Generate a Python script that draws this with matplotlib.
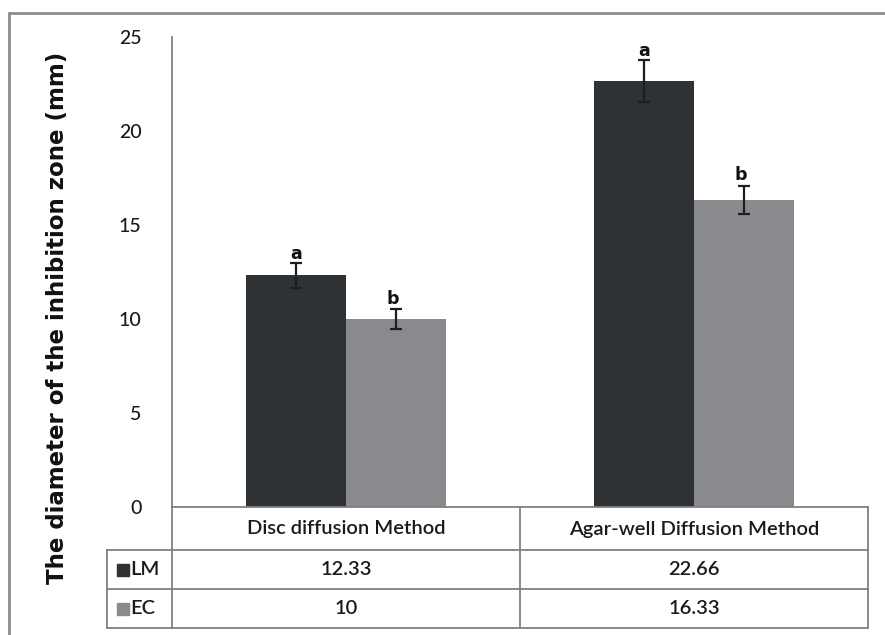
import matplotlib.pyplot as plt
from matplotlib.patches import Rectangle
import numpy as np

# data
methods = ['Disc diffusion Method', 'Agar-well Diffusion Method']
series_names = ['LM', 'EC']
lm_means = [12.33, 22.66]
ec_means = [10, 16.33]
lm_err = [0.66, 1.1]
ec_err = [0.53, 0.77]
lm_text = ['12.33', '22.66']
ec_text = ['10', '16.33']
lm_letters = ['a', 'a']
ec_letters = ['b', 'b']
yticks = [0, 5, 10, 15, 20, 25]

LM_COLOR = '#2e3235'
EC_COLOR = '#898a8e'
LINE = '#808080'
TXT_FONT = ['Lato', 'DejaVu Sans']

W, H = 885, 635
fig = plt.figure(figsize=(W / 100, H / 100), dpi=100)


def fx(px):
    return px / W


def fy(py):
    return 1 - py / H


# main plot area (pixel box 172..868 x 37..507)
ax = fig.add_axes([fx(172), fy(507), fx(868) - fx(172), fy(37) - fy(507)])
x = np.arange(len(methods))
w = 100 / 348  # bar width in category units

ax.bar(x - w / 2, lm_means, w, color=LM_COLOR, yerr=lm_err, capsize=4,
       error_kw=dict(elinewidth=1.6, capthick=1.6, ecolor='#1e1e1e'))
ax.bar(x + w / 2, ec_means, w, color=EC_COLOR, yerr=ec_err, capsize=4,
       error_kw=dict(elinewidth=1.6, capthick=1.6, ecolor='#1e1e1e'))

for i in range(len(methods)):
    ax.annotate(lm_letters[i], (x[i] - w / 2, lm_means[i] + lm_err[i]),
                xytext=(0, 0), textcoords='offset points', ha='center', va='bottom',
                fontsize=12.5, fontweight='bold', color='#111')
    ax.annotate(ec_letters[i], (x[i] + w / 2, ec_means[i] + ec_err[i]),
                xytext=(-2, 1), textcoords='offset points', ha='center', va='bottom',
                fontsize=12.5, fontweight='bold', color='#111')

ax.set_xlim(-0.5, 1.5)
ax.set_ylim(0, 25)
ax.set_yticks(yticks)
ax.set_xticks([])
for lab in ax.get_yticklabels():
    lab.set_family(TXT_FONT)
    lab.set_fontweight('medium')
ax.tick_params(axis='y', length=0, pad=22, labelsize=14, labelcolor='#1a1a1a')
for s in ['top', 'right', 'bottom']:
    ax.spines[s].set_visible(False)
ax.spines['left'].set_color(LINE)
ax.spines['left'].set_linewidth(1.3)

fig.text(fx(58), fy(318), 'The diameter of the inhibition zone (mm)', rotation=90,
         ha='center', va='center', fontsize=16.5, fontweight='bold', color='#111')

# data table under the bars
tax = fig.add_axes([fx(172), fy(628), fx(868) - fx(172), fy(507) - fy(628)])
tax.set_xlim(-0.5, 1.5)
tax.set_ylim(121, 0)
tax.axis('off')


def px2x(px):
    return -0.5 + (px - 172) / 348


xl = px2x(107)
lk = dict(color=LINE, lw=1.3, clip_on=False)
tax.plot([-0.5, 1.5], [0, 0], **lk)
for yy in [43, 82, 121]:
    tax.plot([xl, 1.5], [yy, yy], **lk)
for xx in [-0.5, 0.5, 1.5]:
    tax.plot([xx, xx], [0, 121], **lk)
tax.plot([xl, xl], [43, 121], **lk)

tk = dict(ha='center', va='center', fontsize=14.5, family=TXT_FONT,
          fontweight='semibold', color='#1a1a1a')
for i in range(len(methods)):
    tax.text(x[i], 22, methods[i], **tk)
    tax.text(x[i], 62.5, lm_text[i], **tk)
    tax.text(x[i], 101.5, ec_text[i], **tk)

for name, color, yy in zip(series_names, [LM_COLOR, EC_COLOR], [62.5, 101.5]):
    tax.plot([px2x(123)], [yy], marker='s', ms=8.5, color=color, clip_on=False)
    tax.text(px2x(130), yy, name, ha='left', va='center', fontsize=14.5,
             family=TXT_FONT, fontweight='semibold', color='#1a1a1a')

# outer frame, cut off at right and bottom
fig.add_artist(Rectangle((fx(9), -0.5), 2, fy(13) + 0.5, transform=fig.transFigure,
                         fill=False, ec='#8c8c8c', lw=2))

fig.savefig('out.png', dpi=100)
